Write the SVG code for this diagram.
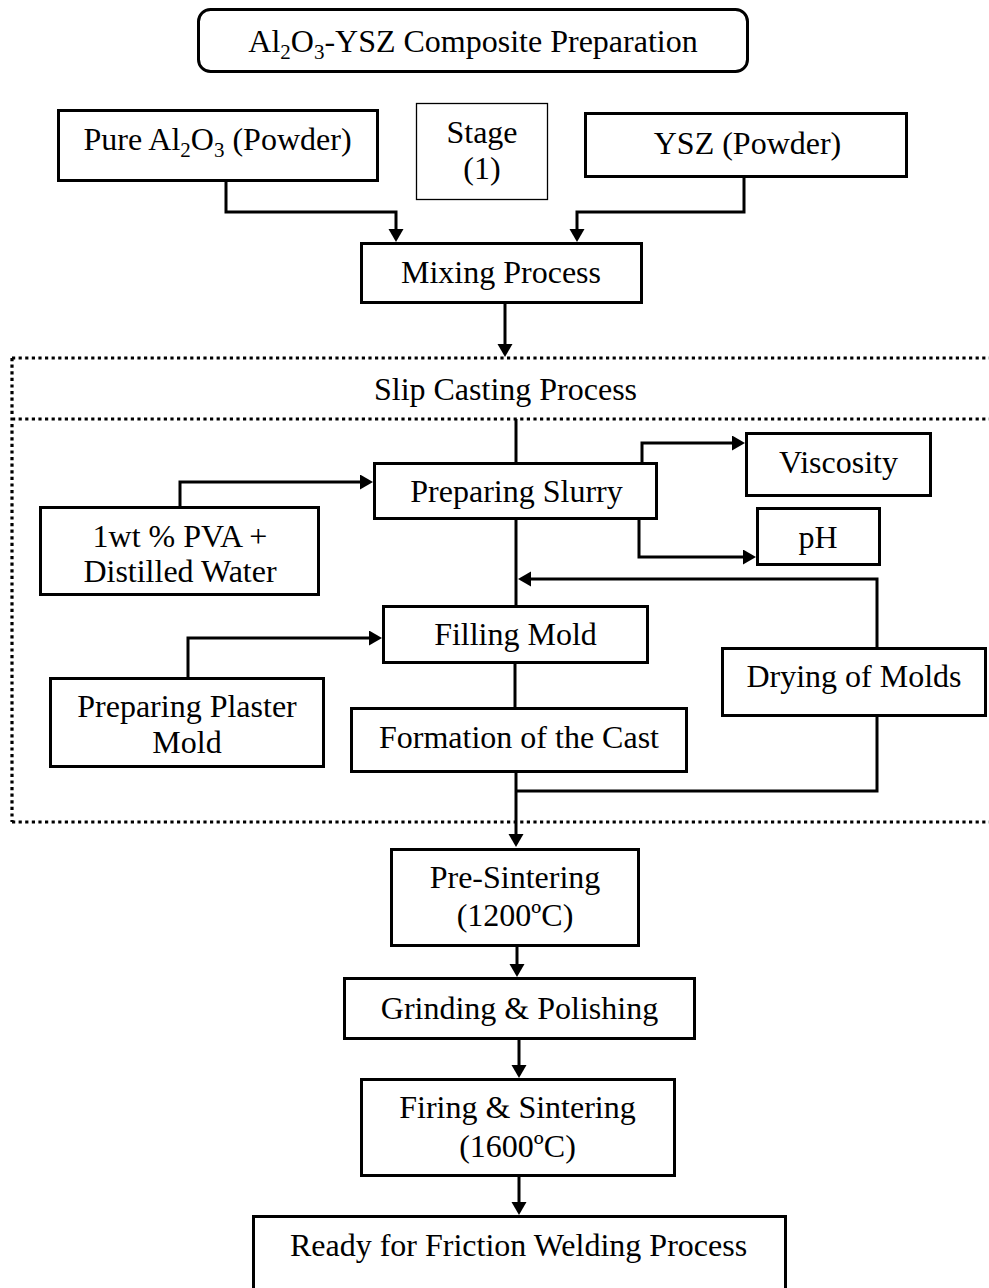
<svg xmlns="http://www.w3.org/2000/svg" width="989" height="1288" viewBox="0 0 989 1288">
<style>
  .box{fill:#fff;stroke:#000;stroke-width:3}
  .thin{fill:#fff;stroke:#000;stroke-width:1.3}
  .t{font-family:"Liberation Serif","Times New Roman",serif;font-size:32px;fill:#000;text-anchor:middle}
  .c{fill:none;stroke:#000;stroke-width:3}
  .ca{fill:none;stroke:#000;stroke-width:3;marker-end:url(#ah)}
  .dot{fill:none;stroke:#000;stroke-width:3.2;stroke-dasharray:3.2 3.4}
</style>
<defs>
  <marker id="ah" markerUnits="userSpaceOnUse" markerWidth="14" markerHeight="16" refX="8" refY="7.5" orient="auto" viewBox="0 0 14 16">
    <path d="M0,0 L13,7.5 L0,15 z" fill="#000"/>
  </marker>
</defs>
<rect width="989" height="1288" fill="#fff"/>

<g id="slip-casting-frame">
  <path class="dot" d="M12,358 H989 M12,419 H989 M12,822 H989 M12,358 V822"/>
  <text class="t" x="505.5" y="400">Slip Casting Process</text>
</g>

<g id="connectors">
  <path class="ca" d="M226,182 V212 H396 V237"/>
  <path class="ca" d="M744,178 V212 H577 V237"/>
  <path class="ca" d="M505,304 V352"/>
  <path class="c" d="M516,419 V462"/>
  <path class="ca" d="M642,462 V443 H740"/>
  <path class="ca" d="M639,520 V557 H751"/>
  <path class="ca" d="M180,506 V482 H368"/>
  <path class="c" d="M516,520 V605"/>
  <path class="ca" d="M877,647 V579 H523"/>
  <path class="ca" d="M188,677 V638 H377"/>
  <path class="c" d="M515,664 V707"/>
  <path class="c" d="M877,717 V791 H516"/>
  <path class="ca" d="M516,773 V842"/>
  <path class="ca" d="M517,947 V972"/>
  <path class="ca" d="M519,1040 V1073"/>
  <path class="ca" d="M519,1177 V1210"/>
</g>

<g id="title">
  <rect class="box" x="198.5" y="9.5" width="549" height="62" rx="12"/>
  <text class="t" x="473" y="52">Al<tspan font-size="21" dy="7">2</tspan><tspan dy="-7">O</tspan><tspan font-size="21" dy="7">3</tspan><tspan dy="-7">-YSZ Composite Preparation</tspan></text>
</g>

<g id="pure-al2o3">
  <rect class="box" x="58.5" y="110.5" width="319" height="70"/>
  <text class="t" x="217.5" y="150">Pure Al<tspan font-size="21" dy="7">2</tspan><tspan dy="-7">O</tspan><tspan font-size="21" dy="7">3</tspan><tspan dy="-7"> (Powder)</tspan></text>
</g>

<g id="stage">
  <rect class="thin" x="416.5" y="103.5" width="131" height="96"/>
  <text class="t" x="482" y="143">Stage</text>
  <text class="t" x="482" y="179">(1)</text>
</g>

<g id="ysz">
  <rect class="box" x="585.5" y="113.5" width="321" height="63"/>
  <text class="t" x="747.5" y="154">YSZ (Powder)</text>
</g>

<g id="mixing">
  <rect class="box" x="361.5" y="243.5" width="280" height="59"/>
  <text class="t" x="501" y="283">Mixing Process</text>
</g>

<g id="slurry">
  <rect class="box" x="374.5" y="463.5" width="282" height="55"/>
  <text class="t" x="516.5" y="502">Preparing Slurry</text>
</g>

<g id="viscosity">
  <rect class="box" x="746.5" y="433.5" width="184" height="62"/>
  <text class="t" x="838.5" y="473">Viscosity</text>
</g>

<g id="ph">
  <rect class="box" x="757.5" y="508.5" width="122" height="56"/>
  <text class="t" x="818" y="548">pH</text>
</g>

<g id="pva">
  <rect class="box" x="40.5" y="507.5" width="278" height="87"/>
  <text class="t" x="180" y="547">1wt % PVA +</text>
  <text class="t" x="180" y="582">Distilled Water</text>
</g>

<g id="filling">
  <rect class="box" x="383.5" y="606.5" width="264" height="56"/>
  <text class="t" x="515.5" y="645">Filling Mold</text>
</g>

<g id="plaster">
  <rect class="box" x="50.5" y="678.5" width="273" height="88"/>
  <text class="t" x="187" y="717">Preparing Plaster</text>
  <text class="t" x="187" y="753">Mold</text>
</g>

<g id="formation">
  <rect class="box" x="351.5" y="708.5" width="335" height="63"/>
  <text class="t" x="519" y="748">Formation of the Cast</text>
</g>

<g id="drying">
  <rect class="box" x="722.5" y="648.5" width="263" height="67"/>
  <text class="t" x="854" y="687">Drying of Molds</text>
</g>

<g id="pre-sintering">
  <rect class="box" x="391.5" y="849.5" width="247" height="96"/>
  <text class="t" x="515" y="888">Pre-Sintering</text>
  <text class="t" x="515" y="926">(1200ºC)</text>
</g>

<g id="grinding">
  <rect class="box" x="344.5" y="978.5" width="350" height="60"/>
  <text class="t" x="519.5" y="1019">Grinding &amp; Polishing</text>
</g>

<g id="firing">
  <rect class="box" x="361.5" y="1079.5" width="313" height="96"/>
  <text class="t" x="517.5" y="1118">Firing &amp; Sintering</text>
  <text class="t" x="517.5" y="1157">(1600ºC)</text>
</g>

<g id="ready">
  <rect class="box" x="253.5" y="1216.5" width="532" height="100"/>
  <text class="t" x="518.5" y="1256">Ready for Friction Welding Process</text>
</g>
</svg>
